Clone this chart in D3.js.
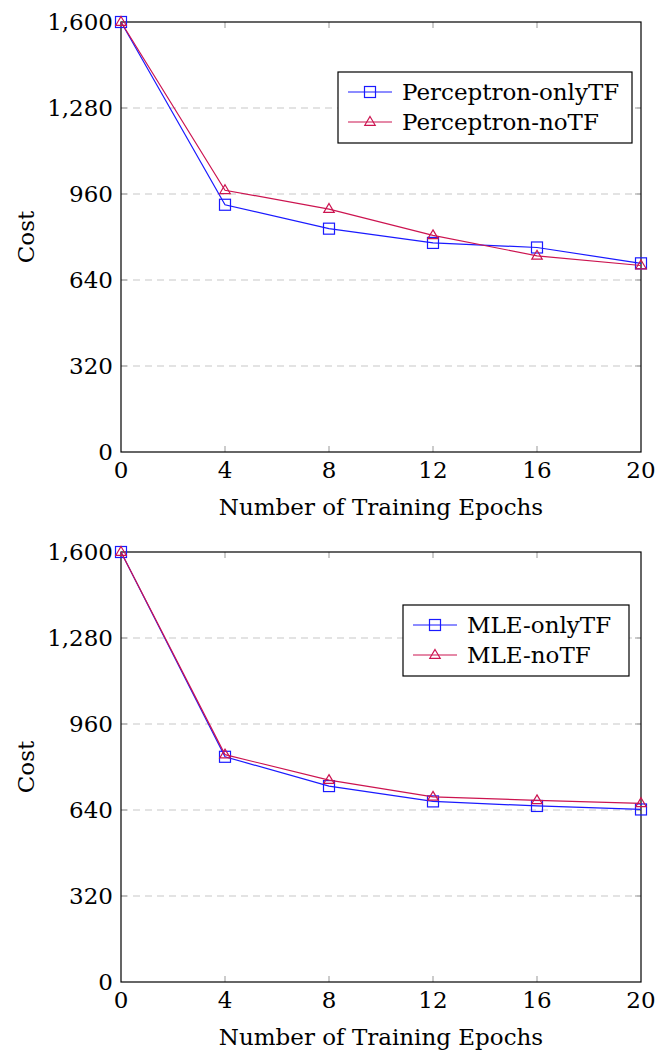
<!DOCTYPE html>
<html>
<head>
<meta charset="utf-8">
<script src="https://cdn.jsdelivr.net/npm/d3@7"></script>
<style>
  body { margin: 0; background: #fff; }
</style>
</head>
<body>
<div id="chart"></div>
<script>
'use strict';

// epochs on the x axis, shared by both panels
var epochs = [0, 4, 8, 12, 16, 20];
var xTicks = [0, 4, 8, 12, 16, 20];
var yTicks = [0, 320, 640, 960, 1280, 1600];

// top panel
var percOnlyTF = [1600, 920, 831, 778, 761, 702];
var percNoTF = [1600, 974, 904, 806, 730, 694];
// bottom panel
var mleOnlyTF = [1600, 838, 729, 672, 655, 642];
var mleNoTF = [1600, 846, 751, 689, 676, 665];

var panels = [
    { top: 22, names: ['Perceptron-onlyTF', 'Perceptron-noTF'], series: [percOnlyTF, percNoTF], legend: { x: 338, y: 72, w: 294 } },
    { top: 552, names: ['MLE-onlyTF', 'MLE-noTF'], series: [mleOnlyTF, mleNoTF], legend: { x: 403, y: 605, w: 226 } }
];

var blue = '#1a1aff', red = '#cc1450';
var colors = [blue, red];
var FONT = 'DejaVu Serif';
var FS = '23px';

var width = 657, height = 1055;
var plotLeft = 121, plotRight = 641, plotH = 430;

var svg = d3.select('#chart').append('svg')
    .attr('width', width)
    .attr('height', height);

var x = d3.scaleLinear().domain([0, 20]).range([plotLeft, plotRight]);

function label(g) {
    return g.append('text')
        .attr('font-family', FONT)
        .attr('font-size', FS)
        .attr('fill', '#000');
}

function marker(g, type, color, cx, cy) {
    if (type === 0) {
        g.append('rect')
            .attr('x', cx - 5.5).attr('y', cy - 5.5)
            .attr('width', 11).attr('height', 11)
            .attr('fill', 'none').attr('stroke', color).attr('stroke-width', 1.2);
    } else {
        var s = 5.5;
        g.append('path')
            .attr('d', 'M' + cx + ',' + (cy - s) + 'L' + (cx + s * 0.95) + ',' + (cy + s * 0.6) + 'L' + (cx - s * 0.95) + ',' + (cy + s * 0.6) + 'Z')
            .attr('fill', 'none').attr('stroke', color).attr('stroke-width', 1.2);
    }
}

panels.forEach(function (p) {
    var g = svg.append('g');
    var y = d3.scaleLinear().domain([0, 1600]).range([p.top + plotH, p.top]);

    // dashed grid
    g.selectAll('.grid').data(yTicks.slice(1, -1)).enter()
        .append('line')
        .attr('x1', plotLeft).attr('x2', plotRight)
        .attr('y1', function (d) { return y(d); }).attr('y2', function (d) { return y(d); })
        .attr('stroke', '#c8c8c8').attr('stroke-width', 1.2)
        .attr('stroke-dasharray', '7,5');

    // inward ticks on all four sides
    xTicks.slice(1, -1).forEach(function (t) {
        g.append('line').attr('x1', x(t)).attr('x2', x(t)).attr('y1', p.top + plotH).attr('y2', p.top + plotH - 6)
            .attr('stroke', '#999').attr('stroke-width', 1);
        g.append('line').attr('x1', x(t)).attr('x2', x(t)).attr('y1', p.top).attr('y2', p.top + 6)
            .attr('stroke', '#999').attr('stroke-width', 1);
    });
    yTicks.slice(1, -1).forEach(function (t) {
        g.append('line').attr('x1', plotLeft).attr('x2', plotLeft + 6).attr('y1', y(t)).attr('y2', y(t))
            .attr('stroke', '#999').attr('stroke-width', 1);
        g.append('line').attr('x1', plotRight).attr('x2', plotRight - 6).attr('y1', y(t)).attr('y2', y(t))
            .attr('stroke', '#999').attr('stroke-width', 1);
    });

    // frame
    g.append('rect')
        .attr('x', plotLeft).attr('y', p.top)
        .attr('width', plotRight - plotLeft).attr('height', plotH)
        .attr('fill', 'none').attr('stroke', '#000').attr('stroke-width', 1.2);

    // tick labels
    xTicks.forEach(function (t) {
        label(g).attr('x', x(t)).attr('y', p.top + plotH + 26)
            .attr('text-anchor', 'middle').text(t);
    });
    yTicks.forEach(function (t) {
        label(g).attr('x', plotLeft - 8).attr('y', y(t) + 8)
            .attr('text-anchor', 'end').text(d3.format(',')(t));
    });

    // axis titles
    label(g).attr('x', (plotLeft + plotRight) / 2).attr('y', p.top + plotH + 63)
        .attr('text-anchor', 'middle').text('Number of Training Epochs');
    label(g).attr('transform', 'translate(34,' + (p.top + plotH / 2) + ') rotate(-90)')
        .attr('text-anchor', 'middle').text('Cost');

    // lines and markers
    var line = d3.line()
        .x(function (d, i) { return x(epochs[i]); })
        .y(function (d) { return y(d); });

    p.series.forEach(function (s, k) {
        g.append('path')
            .datum(s)
            .attr('d', line)
            .attr('fill', 'none')
            .attr('stroke', colors[k])
            .attr('stroke-width', 1.2);
        s.forEach(function (v, i) {
            marker(g, k, colors[k], x(epochs[i]), y(v));
        });
    });

    // legend
    var L = p.legend;
    var lg = g.append('g');
    lg.append('rect')
        .attr('x', L.x).attr('y', L.y)
        .attr('width', L.w).attr('height', 71)
        .attr('fill', '#fff').attr('stroke', '#000').attr('stroke-width', 1.2);
    p.names.forEach(function (name, k) {
        var cy = L.y + 20 + k * 30;
        lg.append('line')
            .attr('x1', L.x + 10).attr('x2', L.x + 54)
            .attr('y1', cy).attr('y2', cy)
            .attr('stroke', colors[k]).attr('stroke-width', 1.2);
        marker(lg, k, colors[k], L.x + 32, cy);
        label(lg).attr('x', L.x + 64).attr('y', cy + 8).text(name);
    });
});
</script>
</body>
</html>
